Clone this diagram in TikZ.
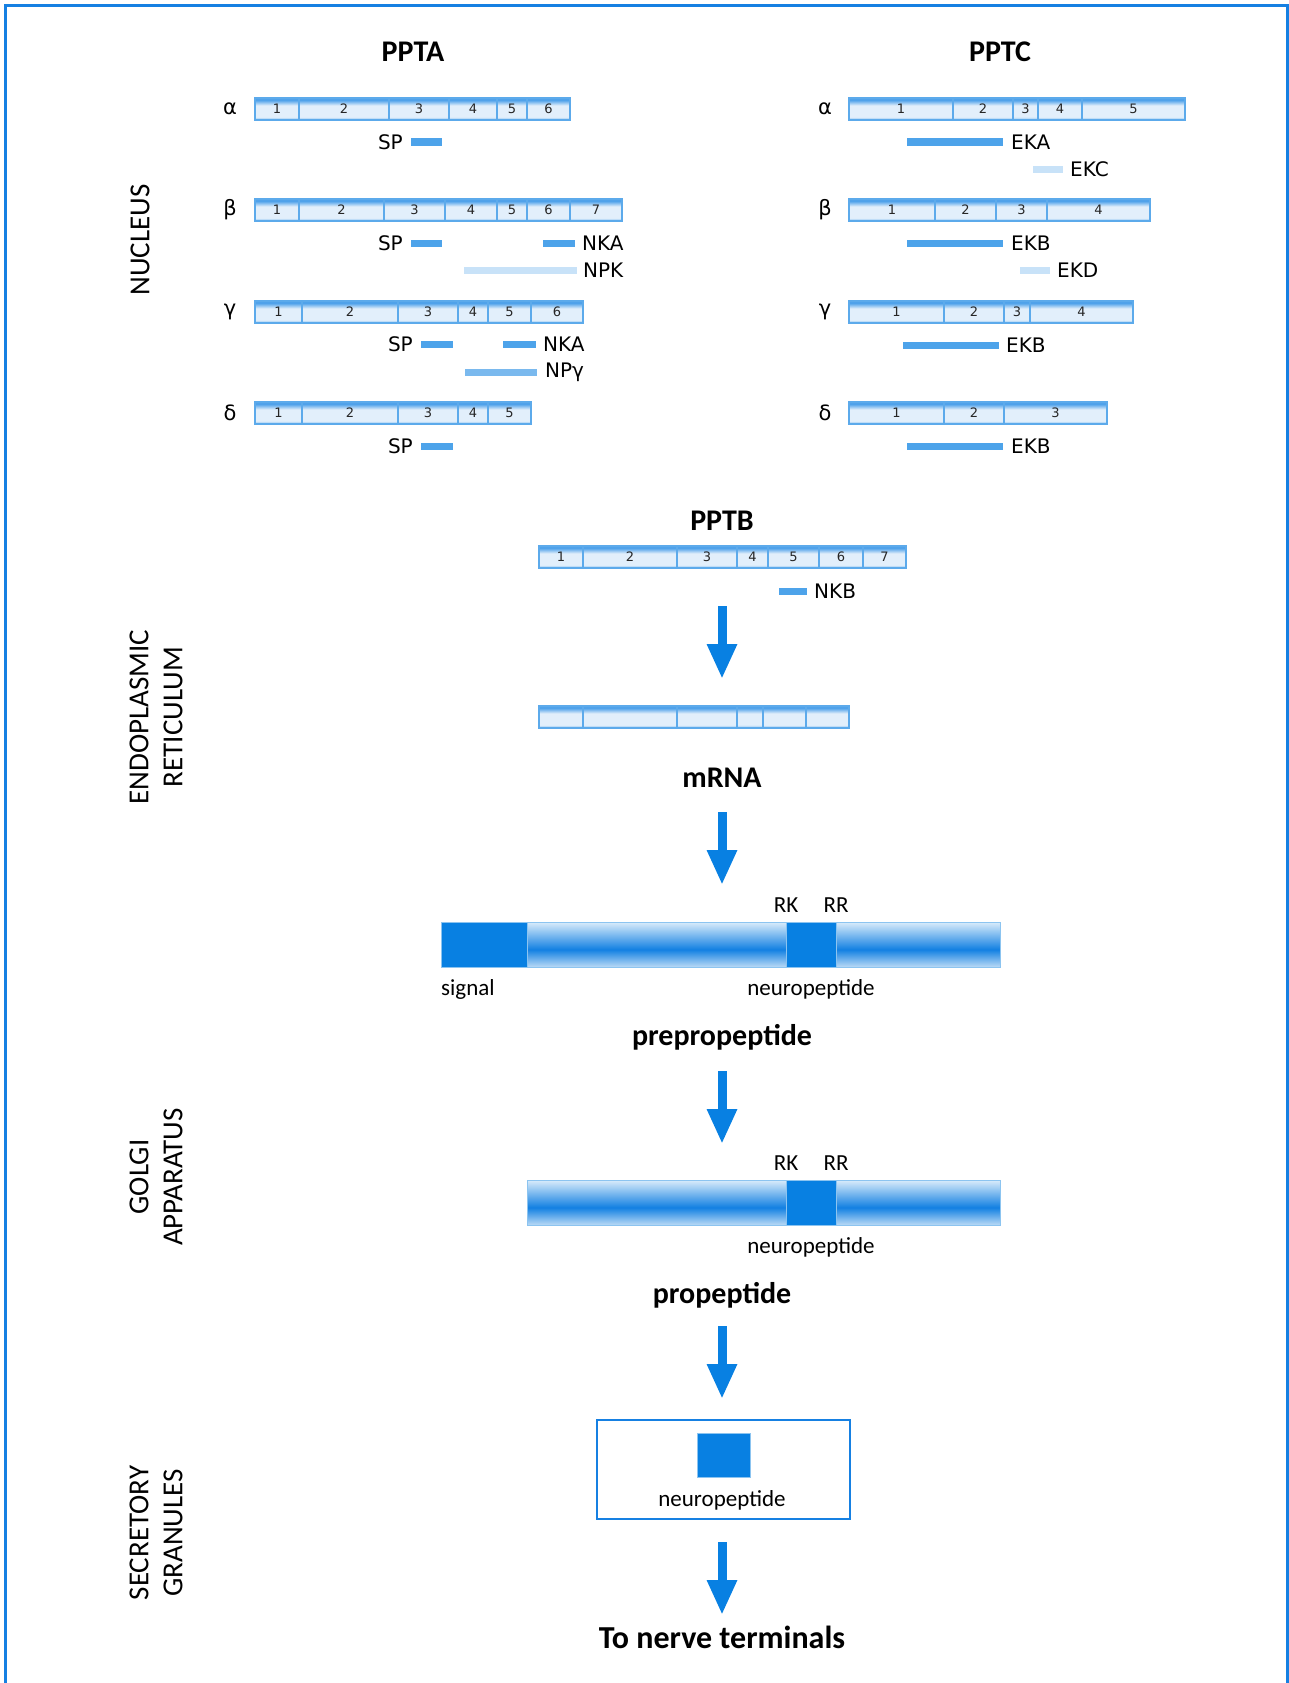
\documentclass[tikz,border=0pt]{standalone}
\usepackage{fontspec}
\setmainfont{Carlito}
\newfontfamily\dvs{DejaVu Sans}
\usetikzlibrary{arrows.meta}
\definecolor{framec}{RGB}{22,128,226}
\definecolor{darkb}{RGB}{8,128,226}
\definecolor{markc}{RGB}{77,163,234}
\definecolor{lightm}{RGB}{200,226,248}
\definecolor{midm}{RGB}{122,185,238}
\definecolor{gline}{RGB}{92,170,235}
\definecolor{gtop}{RGB}{80,162,234}
\definecolor{glight}{RGB}{226,239,251}
\definecolor{gbot}{RGB}{125,187,240}
\definecolor{pl}{RGB}{214,234,250}
\definecolor{pl2}{RGB}{190,220,246}
\definecolor{pd}{RGB}{18,128,226}
\definecolor{pline}{RGB}{140,196,240}
\pgfdeclareverticalshading{geneshade}{100bp}{color(0bp)=(gbot); color(25bp)=(gbot); color(32bp)=(glight); color(58bp)=(glight); color(70bp)=(gtop); color(75bp)=(gtop); color(100bp)=(gtop)}
\pgfdeclareverticalshading{pepshade}{100bp}{color(0bp)=(pl2); color(25bp)=(pl2); color(45bp)=(pd); color(75bp)=(pl); color(100bp)=(pl)}
\tikzset{
  gseg/.style={draw=gline, line width=1.2pt, shading=geneshade, minimum height=22pt, inner sep=0pt, font=\dvs\fontsize{13}{14}\selectfont, text=black!85},
  pmark/.style={fill=markc, minimum height=7pt, inner sep=0pt},
  lmark/.style={fill=lightm, minimum height=7pt, inner sep=0pt},
  mmark/.style={fill=midm, minimum height=7pt, inner sep=0pt},
  lab/.style={font=\dvs\fontsize{20}{22}\selectfont, inner sep=0pt},
  greek/.style={font=\dvs\fontsize{21}{23}\selectfont, inner sep=0pt},
  title/.style={font=\bfseries\fontsize{30}{34}\selectfont, inner sep=0pt},
  side/.style={font=\fontsize{29}{34}\selectfont, rotate=90, align=center, inner sep=0pt},
  small/.style={font=\fontsize{23}{26}\selectfont, inner sep=0pt},
  pepbar/.style={draw=pline, line width=1pt, shading=pepshade, minimum height=45pt, inner sep=0pt},
  darkblk/.style={fill=darkb, draw=pline, line width=1pt, minimum height=45pt, inner sep=0pt},
  bigarrow/.style={draw=darkb, line width=9pt, -{Triangle[width=28pt,length=35pt]}},
}
\newcommand{\gbar}[3]{%
  \foreach \a/\b/\n in {#3}{%
    \node[gseg, minimum width={(\b-\a)*1pt}] (#1-\n) at ({(\a+\b)/2},#2) {\n};}}
\newcommand{\gbarnl}[3]{%
  \foreach \a/\b/\n in {#3}{%
    \node[gseg, minimum width={(\b-\a)*1pt}] (#1-\n) at ({(\a+\b)/2},#2) {};}}
\newcommand{\mk}[5]{\node[#1, minimum width={(#4-#3)*1pt}] (#2) at ({(#3+#4)/2},#5) {};}
\begin{document}
\begin{tikzpicture}[x=1pt,y=-1pt]
\useasboundingbox (0,0) rectangle (1289,1683);
\draw[framec, line width=3pt] (5.5,5.5) rectangle (1287.5,1700);

% titles
\node[title] (ppta) at (413,52) {PPTA};
\node[title] (pptc) at (1000,52) {PPTC};
\node[side] (nucleus) at (140,240) {NUCLEUS};
\node[side] (er) at (156,717) {ENDOPLASMIC\\RETICULUM};
\node[side] (golgi) at (156,1177) {GOLGI\\APPARATUS};
\node[side] (sg) at (156,1533) {SECRETORY\\GRANULES};

% PPTA
\node[greek] (aa) at (230,109) {α};
\node[greek] (ab) at (230,210) {β};
\node[greek] (ag) at (230,312) {γ};
\node[greek] (ad) at (230,413) {δ};
\gbar{Aa}{109}{255/299/1,299/389/2,389/449/3,449/497/4,497/527/5,527/570/6}
\gbar{Ab}{210}{255/299/1,299/384/2,384/445/3,445/497/4,497/527/5,527/570/6,570/622/7}
\gbar{Ag}{312}{255/302/1,302/398/2,398/458/3,458/488/4,488/531/5,531/583/6}
\gbar{Ad}{413}{255/302/1,302/398/2,398/458/3,458/488/4,488/531/5}
\mk{pmark}{m1}{411}{442}{142}
\node[lab, anchor=east] (l1) at (403,142) {SP};
\mk{pmark}{m2}{411}{442}{243}
\node[lab, anchor=east] (l2) at (403,243) {SP};
\mk{pmark}{m3}{543}{575}{243}
\node[lab, anchor=west] (l3) at (582,243) {NKA};
\mk{lmark}{m4}{464}{577}{270}
\node[lab, anchor=west] (l4) at (583,270) {NPK};
\mk{pmark}{m5}{421}{453}{344}
\node[lab, anchor=east] (l5) at (413,344) {SP};
\mk{pmark}{m6}{503}{536}{344}
\node[lab, anchor=west] (l6) at (543,344) {NKA};
\mk{mmark}{m7}{465}{537}{372}
\node[lab, anchor=west] (l7) at (545,372) {NPγ};
\mk{pmark}{m8}{421}{453}{446}
\node[lab, anchor=east] (l8) at (413,446) {SP};

% PPTC
\node[greek] (ca) at (825,109) {α};
\node[greek] (cb) at (825,210) {β};
\node[greek] (cg) at (825,312) {γ};
\node[greek] (cd) at (825,413) {δ};
\gbar{Ca}{109}{849/953/1,953/1013/2,1013/1038/3,1038/1082/4,1082/1185/5}
\gbar{Cb}{210}{849/935/1,935/996/2,996/1047/3,1047/1150/4}
\gbar{Cg}{312}{849/944/1,944/1004/2,1004/1030/3,1030/1133/4}
\gbar{Cd}{413}{849/944/1,944/1004/2,1004/1107/3}
\mk{pmark}{n1}{907}{1003}{142}
\node[lab, anchor=west] (k1) at (1011,142) {EKA};
\mk{lmark}{n2}{1033}{1063}{169}
\node[lab, anchor=west] (k2) at (1070,169) {EKC};
\mk{pmark}{n3}{907}{1003}{243}
\node[lab, anchor=west] (k3) at (1011,243) {EKB};
\mk{lmark}{n4}{1020}{1050}{270}
\node[lab, anchor=west] (k4) at (1057,270) {EKD};
\mk{pmark}{n5}{903}{999}{345}
\node[lab, anchor=west] (k5) at (1006,345) {EKB};
\mk{pmark}{n6}{907}{1003}{446}
\node[lab, anchor=west] (k6) at (1011,446) {EKB};

% PPTB
\node[title] (pptb) at (722,521) {PPTB};
\gbar{B}{557}{539/583/1,583/677/2,677/737/3,737/768/4,768/819/5,819/863/6,863/906/7}
\mk{pmark}{nkb}{779}{807}{591}
\node[lab, anchor=west] (lnkb) at (814,591) {NKB};
\coordinate (a1s) at (722,606); \coordinate (a1e) at (722,679);
\draw[bigarrow] (a1s) -- (a1e);

% mRNA
\gbarnl{M}{717}{539/583/1,583/677/2,677/737/3,737/763/4,763/806/5,806/849/6}
\node[title] (mrna) at (722,778) {mRNA};
\coordinate (a2s) at (722,812); \coordinate (a2e) at (722,885);
\draw[bigarrow] (a2s) -- (a2e);

% prepropeptide
\node[small] (rk1) at (786,905) {RK};
\node[small] (rr1) at (836,905) {RR};
\node[pepbar, minimum width=559pt] (pp1) at (720.5,945) {};
\node[darkblk, minimum width=86pt] (sig) at (484,945) {};
\node[darkblk, minimum width=50pt] (np1) at (811,945) {};
\node[small, anchor=west] (lsig) at (441,989) {signal};
\node[small] (lnp1) at (811,989) {neuropeptide};
\node[title] (prepro) at (722,1037) {prepropeptide};
\coordinate (a3s) at (722,1071); \coordinate (a3e) at (722,1144);
\draw[bigarrow] (a3s) -- (a3e);

% propeptide
\node[small] (rk2) at (786,1163) {RK};
\node[small] (rr2) at (836,1163) {RR};
\node[pepbar, minimum width=473pt] (pp2) at (763.5,1203) {};
\node[darkblk, minimum width=50pt] (np2) at (811,1203) {};
\node[small] (lnp2) at (811,1247) {neuropeptide};
\node[title] (pro) at (722,1295) {propeptide};
\coordinate (a4s) at (722,1326); \coordinate (a4e) at (722,1399);
\draw[bigarrow] (a4s) -- (a4e);

% secretory granule
\node[draw=framec, line width=2.5pt, minimum width=253pt, minimum height=99pt, inner sep=0pt] (box) at (723.5,1469.5) {};
\node[fill=darkb, draw=pline, line width=1pt, minimum width=53pt, minimum height=44pt, inner sep=0pt] (sq) at (723.5,1455) {};
\node[small] (lnp3) at (722,1500) {neuropeptide};
\coordinate (a5s) at (722,1542); \coordinate (a5e) at (722,1615);
\draw[bigarrow] (a5s) -- (a5e);
\node[title, font=\bfseries\fontsize{32}{36}\selectfont] (nerve) at (722,1637) {To nerve terminals};
\end{tikzpicture}
\end{document}
